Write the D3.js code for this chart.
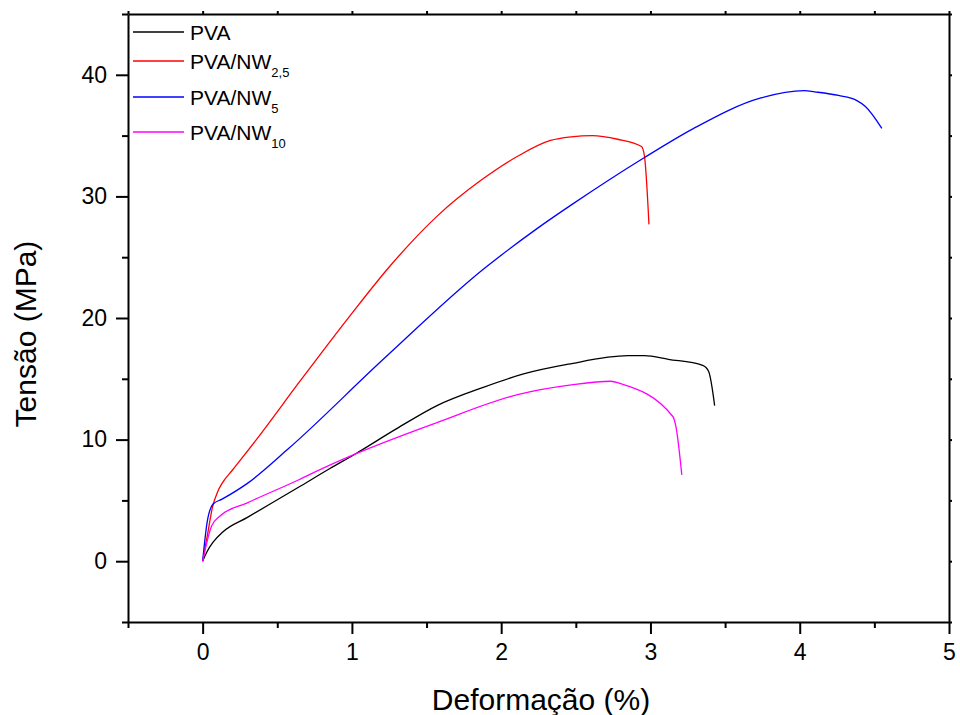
<!DOCTYPE html>
<html>
<head>
<meta charset="utf-8">
<script src="https://cdn.jsdelivr.net/npm/d3@7"></script>
<style>
  body { margin: 0; background: #fff; }
  svg { font-family: "Liberation Sans", Arial, sans-serif; }
</style>
</head>
<body>
<svg id="chart" width="960" height="715"></svg>
<script>
// strain (%) / stress (MPa)
const pvaX = [0, 0.03, 0.07, 0.135, 0.3, 0.645, 0.85, 1.02, 1.3, 1.57, 1.88, 2.15, 2.45, 2.85, 2.96, 3.12, 3.35, 3.39, 3.43];
const pvaY = [0, 0.8, 1.56, 2.4, 3.6, 6.1, 7.6, 8.8, 10.9, 12.8, 14.3, 15.4, 16.2, 16.9, 16.9, 16.6, 16.1, 15.6, 12.8];

const nw25X = [0, 0.03, 0.067, 0.1, 0.13, 0.2, 0.36, 0.652, 0.988, 1.257, 1.573, 1.862, 2.11, 2.33, 2.47, 2.61, 2.78, 2.94, 2.96, 2.99];
const nw25Y = [0, 2.0, 4.5, 5.7, 6.4, 7.5, 10.0, 14.8, 20.2, 24.3, 28.4, 31.3, 33.3, 34.6, 34.9, 35.0, 34.7, 34.1, 33.3, 27.7];

const nw5X = [0, 0.03, 0.07, 0.13, 0.3, 0.57, 1.21, 1.88, 2.24, 2.47, 2.96, 3.29, 3.74, 4.03, 4.10, 4.26, 4.38, 4.44, 4.55];
const nw5Y = [0, 3.2, 4.7, 5.1, 6.4, 9.2, 16.6, 24.0, 27.35, 29.3, 33.2, 35.6, 38.1, 38.7, 38.6, 38.3, 37.9, 37.4, 35.6];

const nw10X = [0, 0.06, 0.115, 0.3, 0.645, 0.79, 1.02, 1.57, 2.11, 2.47, 2.735, 2.80, 3.15, 3.17, 3.21];
const nw10Y = [0, 2.9, 3.7, 4.8, 6.7, 7.55, 8.8, 11.4, 13.7, 14.5, 14.8, 14.6, 11.9, 11.1, 7.1];

const seriesNames = ["PVA", "PVA/NW", "PVA/NW", "PVA/NW"];
const seriesSubs = ["", "2,5", "5", "10"];
const seriesColors = ["#000000", "#ff0000", "#0000ff", "#ff00ff"];

const xTicks = [0, 1, 2, 3, 4, 5];
const xMinor = [-0.5, 0.5, 1.5, 2.5, 3.5, 4.5];
const yTicks = [0, 10, 20, 30, 40];
const yMinor = [-5, 5, 15, 25, 35, 45];

const margin = {top: 14, right: 11, bottom: 93, left: 128};
const width = 960 - margin.left - margin.right;
const height = 715 - margin.top - margin.bottom;

const svg = d3.select("#chart");
const g = svg.append("g").attr("transform", `translate(${margin.left},${margin.top})`);

const x = d3.scaleLinear().domain([-0.5, 5]).range([0, width]);
const y = d3.scaleLinear().domain([-5, 45]).range([height, 0]);

const series = [
    {xs: pvaX, ys: pvaY},
    {xs: nw25X, ys: nw25Y},
    {xs: nw5X, ys: nw5Y},
    {xs: nw10X, ys: nw10Y}
].map((s, i) => ({
    color: seriesColors[i],
    points: s.xs.map((v, j) => [v, s.ys[j]])
}));

const line = d3.line()
    .x(d => x(d[0]))
    .y(d => y(d[1]))
    .curve(d3.curveMonotoneX);

g.append("g")
    .selectAll("path")
    .data(series)
    .join("path")
        .attr("fill", "none")
        .attr("stroke", d => d.color)
        .attr("stroke-width", 1.3)
        .attr("d", d => line(d.points));

// axes
const styleAxis = sel => sel
    .call(s => s.select(".domain").attr("stroke-width", 2))
    .call(s => s.selectAll(".tick line").attr("stroke-width", 2));

const bottom = g.append("g").attr("transform", `translate(0,${height})`);
bottom.append("g")
    .call(d3.axisBottom(x).tickValues(xMinor).tickSize(6).tickFormat("").tickSizeOuter(0))
    .call(styleAxis);
bottom.append("g")
    .call(d3.axisBottom(x).tickValues(xTicks).tickSize(12).tickPadding(10).tickFormat(d3.format("d")).tickSizeOuter(0))
    .call(styleAxis)
    .call(s => s.select(".domain").remove())
    .call(s => s.selectAll("text").attr("font-size", 23).attr("fill", "#000"));

const left = g.append("g");
left.append("g")
    .call(d3.axisLeft(y).tickValues(yMinor).tickSize(6).tickFormat("").tickSizeOuter(0))
    .call(styleAxis);
left.append("g")
    .call(d3.axisLeft(y).tickValues(yTicks).tickSize(12).tickPadding(9).tickFormat(d3.format("d")).tickSizeOuter(0))
    .call(styleAxis)
    .call(s => s.select(".domain").remove())
    .call(s => s.selectAll("text").attr("font-size", 23).attr("fill", "#000"));

g.append("g")
    .call(d3.axisTop(x).tickValues(xTicks.concat(xMinor)).tickSize(3).tickFormat("").tickSizeOuter(0))
    .call(styleAxis);
g.append("g")
    .attr("transform", `translate(${width},0)`)
    .call(d3.axisRight(y).tickValues(yTicks.concat(yMinor)).tickSize(3).tickFormat("").tickSizeOuter(0))
    .call(styleAxis);

// axis titles
svg.append("text")
    .attr("x", 541)
    .attr("y", 710)
    .attr("text-anchor", "middle")
    .attr("font-size", 30)
    .text("Deformação (%)");

svg.append("text")
    .attr("transform", "translate(36,334) rotate(-90)")
    .attr("text-anchor", "middle")
    .attr("font-size", 30)
    .text("Tensão (MPa)");

// legend
const legendRows = [32, 61, 97, 132];
const legend = svg.append("g")
    .selectAll("g")
    .data(seriesNames)
    .join("g")
        .attr("transform", (d, i) => `translate(133,${legendRows[i]})`);

legend.append("line")
    .attr("x1", 0).attr("x2", 51)
    .attr("stroke", (d, i) => seriesColors[i])
    .attr("stroke-width", 1.3);

const label = legend.append("text")
    .attr("x", 57)
    .attr("y", 8)
    .attr("font-size", 21);
label.append("tspan").text(d => d);
label.append("tspan")
    .attr("dy", 8)
    .attr("font-size", 13)
    .text((d, i) => seriesSubs[i]);
</script>
</body>
</html>
